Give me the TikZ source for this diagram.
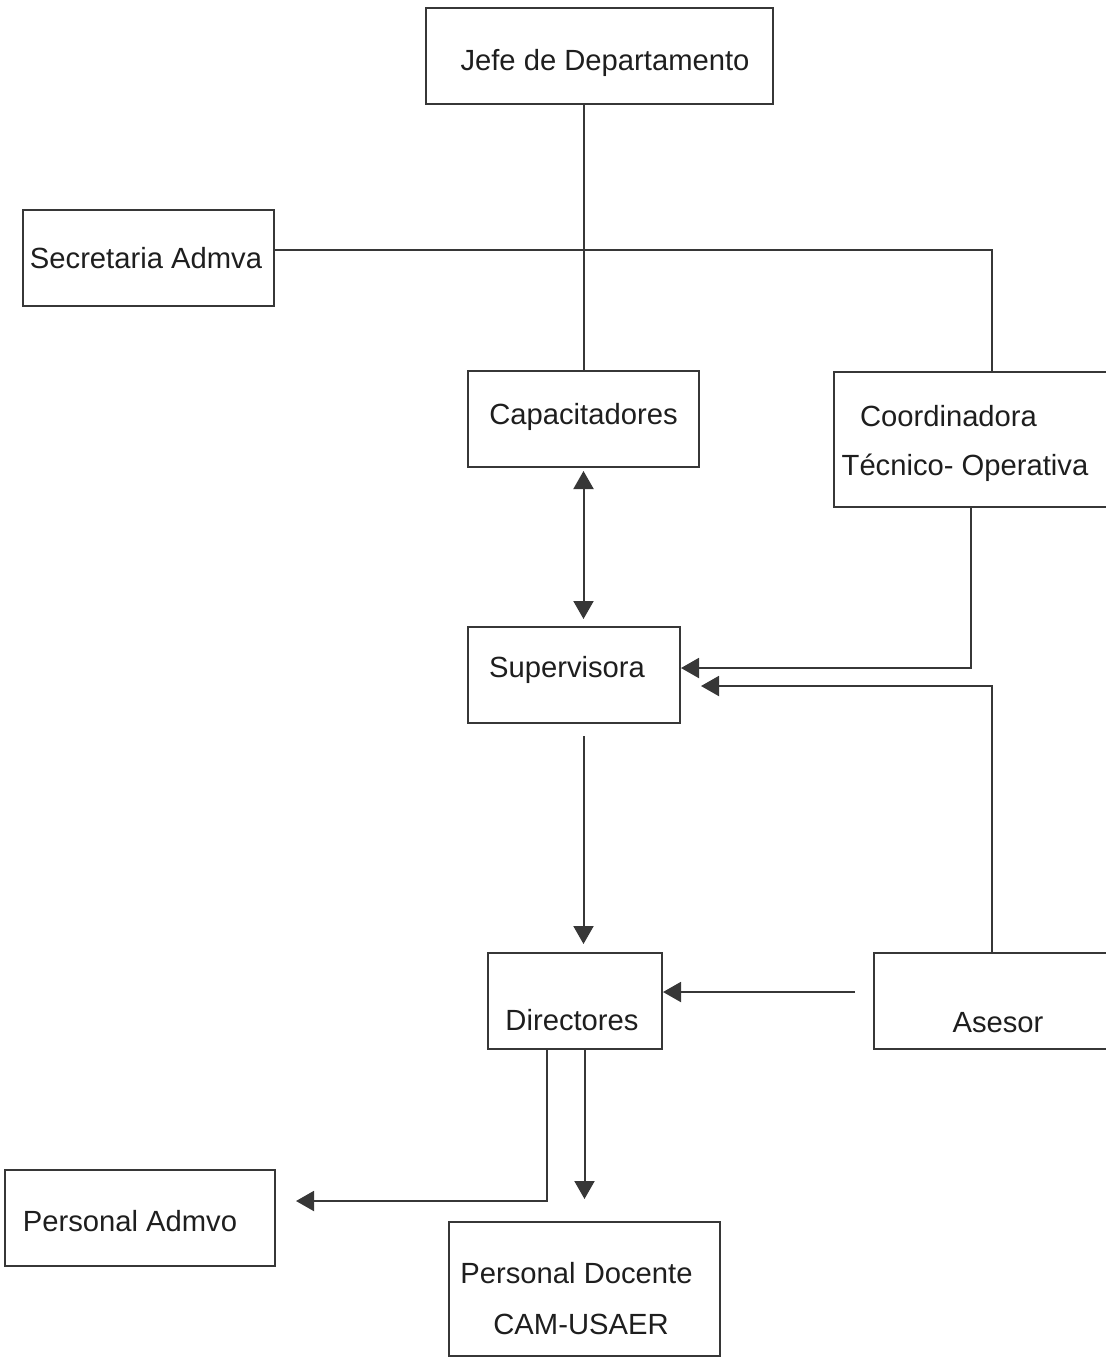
\documentclass[tikz,border=0pt]{standalone}
\usepackage{fontspec}
\setmainfont{Liberation Sans}
\usetikzlibrary{arrows.meta}
\usetikzlibrary{calc}
\definecolor{line1}{RGB}{55,55,55}
\definecolor{text1}{RGB}{30,30,30}

\begin{document}
\begin{tikzpicture}[x=0.5pt, y=-0.5pt, line width=1pt,
    box/.style={rectangle, draw=line1, inner sep=0pt, minimum height=48pt},
    txt/.style={inner sep=0pt, anchor=base, text=text1, font=\fontsize{14.6}{17}\selectfont},
    arr/.style={draw=line1, -{Triangle[length=9pt,width=10pt]}}]
  \useasboundingbox (0,0) rectangle (1106,1357);
  \clip (0,0) rectangle (1106,1357);

  % boxes
  \node[box, minimum width=173.5pt] (jefe) at (599.5,56) {};
  \node[box, minimum width=125.5pt] (sec) at (148.5,258) {};
  \node[box, minimum width=115.5pt] (cap) at (583.5,419) {};
  \node[box, minimum width=158pt, minimum height=67.5pt] (coord) at (992,439.5) {};
  \node[box, minimum width=106pt] (sup) at (574,675) {};
  \node[box, minimum width=87pt] (dir) at (575,1001) {};
  \node[box, minimum width=118pt] (ases) at (992,1001) {};
  \node[box, minimum width=135pt] (adm) at (140,1218) {};
  \node[box, minimum width=135.5pt, minimum height=67pt] (doc) at (584.5,1289) {};

  % texts
  \node[txt] (jefe-t) at (605,70) {Jefe de Departamento};
  \node[txt] (sec-t) at (146,268) {Secretaria Admva};
  \node[txt] (cap-t) at (583.5,424) {Capacitadores};
  \node[txt] (coord-t1) at (948.5,426) {Coordinadora};
  \node[txt] (coord-t2) at (965,475) {Técnico- Operativa};
  \node[txt] (sup-t) at (567,677) {Supervisora};
  \node[txt] (dir-t) at (572,1030) {Directores};
  \node[txt] (ases-t) at (998,1032) {Asesor};
  \node[txt] (adm-t) at (130,1231) {Personal Admvo};
  \node[txt] (doc-t1) at (576.5,1283) {Personal Docente};
  \node[txt] (doc-t2) at (581,1334) {CAM-USAER};

  % lines
  \draw[line1] (jefe.south -| cap.north) -- (cap.north);
  \draw[line1] ([yshift=4pt]sec.east) -| (coord.north);
  \draw[draw=line1, {Triangle[length=9pt,width=10pt]}-{Triangle[length=9pt,width=10pt]}]
    ([yshift=-1.5pt]cap.south) -- ([yshift=3.5pt]cap.south |- sup.north);
  \draw[arr] ([xshift=-10.5pt]coord.south) |- ([yshift=3.5pt]sup.east);
  \draw[arr] (ases.north) |- ([xshift=10pt,yshift=-5.5pt]sup.east);
  \draw[arr] ([yshift=-6pt]sup.south -| cap.south) -- ([yshift=4pt]dir.north -| cap.south);
  \draw[arr] ([xshift=-9pt,yshift=4.5pt]ases.west) -- ([yshift=4.5pt]dir.east);
  \draw[arr] (dir.south -| doc.north) -- ([yshift=11pt]doc.north);
  \draw[arr] ([xshift=-14pt]dir.south) |- ([xshift=10pt,yshift=8.5pt]adm.east);
\end{tikzpicture}
\end{document}
